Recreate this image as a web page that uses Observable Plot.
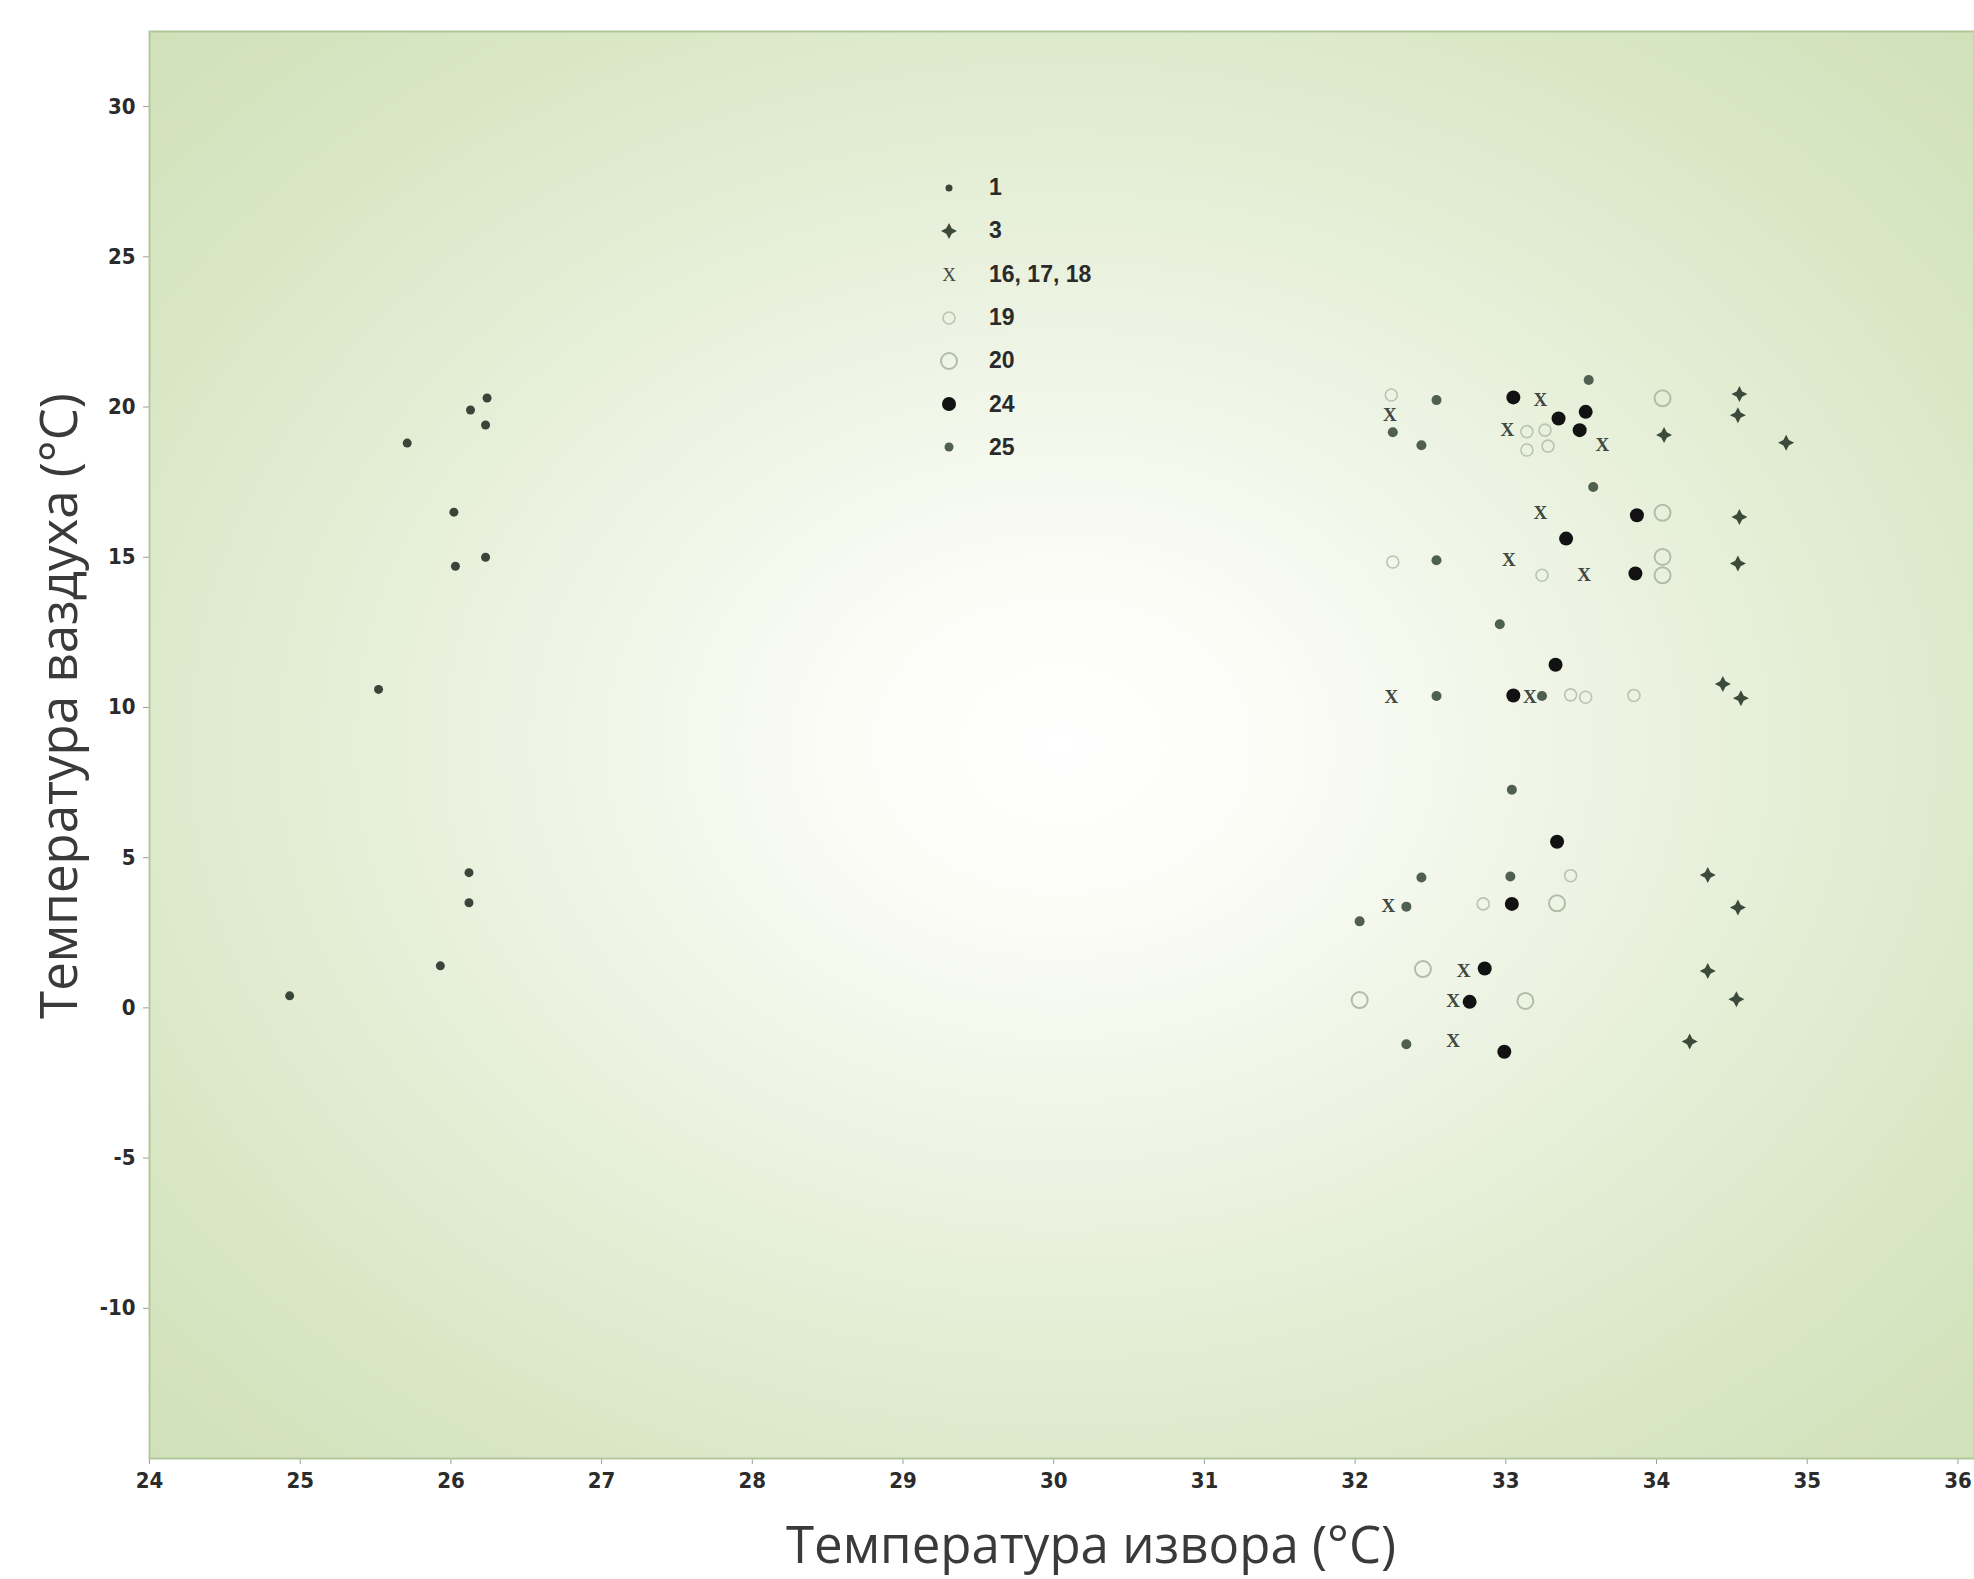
<!DOCTYPE html>
<html><head><meta charset="utf-8">
<script src="https://cdn.jsdelivr.net/npm/d3@7"></script>
<script src="https://cdn.jsdelivr.net/npm/@observablehq/plot@0.6"></script>
<style>
html,body{margin:0;padding:0;background:#fff;overflow:hidden}
#wrap{position:relative;width:1974px;height:1579px;overflow:hidden;background:#fff}
.title{position:absolute;font-family:"Open Sans",sans-serif;font-size:51px;color:#3a3a3a;white-space:nowrap;transform:translate(-50%,-50%)}
#ytitle{transform:translate(-50%,-50%) rotate(-90deg)}
#legend{position:absolute;left:936px;top:166px;font-family:"Liberation Sans",Arial,sans-serif;font-weight:bold;font-size:23px;color:#2a2a2a}
#legend .row{height:43.3px;display:flex;align-items:center}
#legend svg{width:26px;height:26px;margin-right:27px}
#wrap svg [aria-label$="tick"] path, #wrap svg [aria-label$="axis"] line{stroke:#9aa090}
</style></head>
<body><div id="wrap"></div>
<script>
// ---- data ----
const xTicks = [24,25,26,27,28,29,30,31,32,33,34,35,36];
const yTicks = [-10,-5,0,5,10,15,20,25,30];
const seriesNames = ["1","3","16, 17, 18","19","20","24","25"];

const x1 = [26.24,26.13,26.23,25.71,26.02,26.23,26.03,25.52,26.12,26.12,25.93,24.93];
const y1 = [20.3,19.9,19.4,18.8,16.5,15.0,14.7,10.6,4.5,3.5,1.4,0.4];

const x3 = [34.55,34.54,34.05,34.86,34.55,34.54,34.44,34.56,34.34,34.54,34.34,34.53,34.22];
const y3 = [20.43,19.73,19.07,18.81,16.34,14.79,10.78,10.31,4.42,3.34,1.23,0.29,-1.12];

const x16 = [33.23,32.23,33.01,33.64,33.23,33.02,33.52,32.24,33.16,32.22,32.72,32.65,32.65];
const y16 = [20.23,19.73,19.23,18.73,16.46,14.9,14.4,10.34,10.34,3.4,1.23,0.23,-1.1];

const x19 = [32.24,33.14,33.26,33.14,33.28,32.25,33.24,33.43,33.53,33.85,33.43,32.85];
const y19 = [20.4,19.18,19.23,18.57,18.7,14.84,14.4,10.42,10.34,10.4,4.4,3.46];

const x20 = [34.04,34.04,34.04,34.04,33.34,32.45,32.03,33.13];
const y20 = [20.29,16.48,15.01,14.4,3.48,1.29,0.26,0.23];

const x24 = [33.05,33.35,33.53,33.49,33.87,33.4,33.86,33.33,33.05,33.34,33.04,32.86,32.76,32.99];
const y24 = [20.32,19.62,19.84,19.23,16.4,15.62,14.46,11.42,10.4,5.53,3.46,1.31,0.2,-1.46];

const x25 = [32.54,32.25,32.44,33.55,33.58,32.54,32.96,32.54,33.24,33.04,32.44,33.03,32.34,32.03,32.34];
const y25 = [20.23,19.16,18.73,20.9,17.34,14.9,12.77,10.38,10.38,7.26,4.34,4.37,3.37,2.88,-1.21];

const xTitle = "Температура извора (°C)";
const yTitle = "Температура ваздуха (°C)";

// ---- build ----
const pts = (xs, ys) => xs.map((x, i) => ({x, y: ys[i]}));
const d1 = pts(x1,y1), d3s = pts(x3,y3), d16 = pts(x16,y16), d19 = pts(x19,y19),
      d20 = pts(x20,y20), d24 = pts(x24,y24), d25 = pts(x25,y25);

const star4 = {
  draw(ctx, size) {
    const r = Math.sqrt(size / Math.PI), w = r * 0.34;
    ctx.moveTo(0, -r); ctx.lineTo(w, -w); ctx.lineTo(r, 0); ctx.lineTo(w, w);
    ctx.lineTo(0, r); ctx.lineTo(-w, w); ctx.lineTo(-r, 0); ctx.lineTo(-w, -w); ctx.closePath();
  }
};

const styles = {
  "1": {r: 4.5, fill: "#3a453a"},
  "3": {r: 8, fill: "#3c4a3c", symbol: star4},
  "19": {r: 6, stroke: "#b9c4b1", strokeWidth: 1.6, fill: "none"},
  "20": {r: 8, stroke: "#b0bda8", strokeWidth: 2, fill: "none"},
  "24": {r: 7, fill: "#121212"},
  "25": {r: 5, fill: "#506050"}
};
const xStyle = {fontFamily: "Liberation Serif, DejaVu Serif, serif", fontSize: 19, fill: "#404840"};

const chart = Plot.plot({
  width: 1974, height: 1579,
  marginLeft: 149, marginRight: 0, marginTop: 31, marginBottom: 121,
  style: {fontFamily: '"Liberation Sans Narrow","DejaVu Sans Condensed","Liberation Sans",sans-serif', fontSize: "22px", fontWeight: "bold", color: "#2b2b2b", background: "transparent"},
  x: {domain: [24, 36.11], ticks: xTicks, tickFormat: d => String(d), tickSize: 6, tickPadding: 8, label: null},
  y: {domain: [-15, 32.5], ticks: yTicks, tickFormat: d => String(d), tickSize: 6, tickPadding: 8, label: null},
  marks: [
    Plot.frame({fill: "url(#bgGrad)", stroke: "#b3c79c", strokeWidth: 2}),
    Plot.dot(d19, {x: "x", y: "y", ...styles["19"]}),
    Plot.dot(d20, {x: "x", y: "y", ...styles["20"]}),
    Plot.dot(d1, {x: "x", y: "y", ...styles["1"]}),
    Plot.dot(d3s, {x: "x", y: "y", ...styles["3"]}),
    Plot.text(d16, {x: "x", y: "y", text: () => "X", ...xStyle}),
    Plot.dot(d25, {x: "x", y: "y", ...styles["25"]}),
    Plot.dot(d24, {x: "x", y: "y", ...styles["24"]})
  ]
});

// gradient background
const defs = d3.create("svg:defs");
const g = defs.append("radialGradient").attr("id", "bgGrad").attr("cx", 0.5).attr("cy", 0.5).attr("r", 0.72);
[[0, "#ffffff"], [0.14, "#fcfdf8"], [0.4, "#eef4e4"], [0.62, "#e1ecd1"], [0.8, "#d8e6c4"], [1, "#d0e0b8"]]
  .forEach(([o, c]) => g.append("stop").attr("offset", o).attr("stop-color", c));
chart.insertBefore(defs.node(), chart.firstChild);

const wrap = document.getElementById("wrap");
wrap.appendChild(chart);

// titles
const xt = document.createElement("div");
xt.className = "title"; xt.textContent = xTitle;
xt.style.left = "1091px"; xt.style.top = "1543px";
wrap.appendChild(xt);
const yt = document.createElement("div");
yt.className = "title"; yt.id = "ytitle"; yt.textContent = yTitle;
yt.style.left = "57px"; yt.style.top = "706px";
wrap.appendChild(yt);

// legend
const legend = document.createElement("div");
legend.id = "legend";
const icon = (name) => {
  const s = d3.create("svg").attr("viewBox", "-13 -13 26 26");
  if (name === "16, 17, 18") {
    s.append("text").attr("text-anchor", "middle").attr("dy", "0.35em")
      .attr("font-family", xStyle.fontFamily).attr("font-size", 19).attr("font-weight", "normal").attr("fill", xStyle.fill).text("X");
  } else {
    const st = styles[name];
    const r = name === "1" ? 3.5 : (name === "25" ? 4.5 : st.r);
    const path = d3.symbol(st.symbol || d3.symbolCircle, Math.PI * r * r)();
    s.append("path").attr("d", path).attr("fill", st.fill || "none")
      .attr("stroke", st.stroke || "none").attr("stroke-width", st.strokeWidth || 0);
  }
  return s.node();
};
seriesNames.forEach(n => {
  const row = document.createElement("div");
  row.className = "row";
  row.appendChild(icon(n));
  const t = document.createElement("span"); t.textContent = n;
  row.appendChild(t);
  legend.appendChild(row);
});
wrap.appendChild(legend);
</script>
</body></html>
